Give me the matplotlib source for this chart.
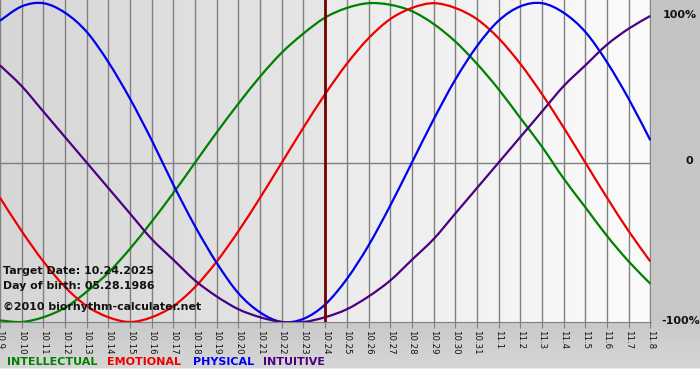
import numpy as np
import matplotlib
matplotlib.use("Agg")
import matplotlib.pyplot as plt
from matplotlib.colors import LinearSegmentedColormap
from matplotlib.path import Path
from matplotlib.patches import PathPatch

# days shown: 10.9 .. 11.8, target date 10.24.2025
dates = ["10.9", "10.10", "10.11", "10.12", "10.13", "10.14", "10.15", "10.16",
         "10.17", "10.18", "10.19", "10.20", "10.21", "10.22", "10.23", "10.24",
         "10.25", "10.26", "10.27", "10.28", "10.29", "10.30", "10.31",
         "11.1", "11.2", "11.3", "11.4", "11.5", "11.6", "11.7", "11.8"]
target_idx = 15

intellectual = [-0.99, -1.00, -0.97, -0.91, -0.81, -0.69, -0.54, -0.37, -0.19, 0.00,
                0.19, 0.37, 0.54, 0.69, 0.81, 0.91, 0.97, 1.00, 0.99, 0.95,
                0.87, 0.76, 0.62, 0.46, 0.28, 0.10, -0.10, -0.28, -0.46, -0.62, -0.76]
emotional = [-0.22, -0.43, -0.62, -0.78, -0.90, -0.97, -1.00, -0.97, -0.90, -0.78,
             -0.62, -0.43, -0.22, 0.00, 0.22, 0.43, 0.62, 0.78, 0.90, 0.97,
             1.00, 0.97, 0.90, 0.78, 0.62, 0.43, 0.22, 0.00, -0.22, -0.43, -0.62]
physical = [0.89, 0.98, 1.00, 0.94, 0.82, 0.63, 0.40, 0.14, -0.14, -0.40,
            -0.63, -0.82, -0.94, -1.00, -0.98, -0.89, -0.73, -0.52, -0.27, 0.00,
            0.27, 0.52, 0.73, 0.89, 0.98, 1.00, 0.94, 0.82, 0.63, 0.40, 0.14]
intuitive = [0.61, 0.48, 0.32, 0.16, 0.00, -0.16, -0.32, -0.48, -0.61, -0.74,
             -0.84, -0.92, -0.97, -1.00, -1.00, -0.97, -0.92, -0.84, -0.74, -0.61,
             -0.48, -0.32, -0.16, 0.00, 0.16, 0.32, 0.48, 0.61, 0.74, 0.84, 0.92]

series = [("INTELLECTUAL", intellectual, "#008000"),
          ("EMOTIONAL", emotional, "#ee0000"),
          ("PHYSICAL", physical, "#0000ee"),
          ("INTUITIVE", intuitive, "#4b0082")]


def smooth_path(xs, ys):
    # catmull-rom through the daily values, drawn as cubic bezier segments
    pts = np.column_stack([xs, ys]).astype(float)
    verts = [pts[0]]
    codes = [Path.MOVETO]
    n = len(pts)
    for i in range(n - 1):
        p0 = pts[max(i - 1, 0)]
        p1 = pts[i]
        p2 = pts[i + 1]
        p3 = pts[min(i + 2, n - 1)]
        verts += [p1 + (p2 - p0) / 6, p2 - (p3 - p1) / 6, p2]
        codes += [Path.CURVE4] * 3
    return Path(verts, codes)


fig = plt.figure(figsize=(7, 3.8), dpi=100)

# figure background: gray, lighter toward the bottom, white strip at the very bottom
bg = fig.add_axes([0, 0, 1, 1], zorder=-10)
bg_cmap = LinearSegmentedColormap.from_list(
    "bg", [(0, "#ffffff"), (0.025, "#ffffff"), (0.03, "#d6d6d6"),
           (0.16, "#c8c8c8"), (1, "#c4c4c4")])
bg.imshow(np.linspace(0, 1, 380)[::-1].reshape(-1, 1), aspect="auto",
          cmap=bg_cmap, extent=[0, 1, 0, 1], origin="upper")
bg.axis("off")

ax = fig.add_axes([0, 58 / 380, 651 / 700, 322 / 380])
x = np.arange(len(dates))
ax.set_xlim(0, len(dates) - 1 + 0.03)
ax.set_ylim(-1.0, 1.02)

# plot area gradients, split at the target date
left_cmap = LinearSegmentedColormap.from_list("l", ["#d6d6d6", "#e6e6e6"])
right_cmap = LinearSegmentedColormap.from_list("r", ["#ebebeb", "#fbfbfb"])
grad = np.linspace(0, 1, 200).reshape(1, -1)
ax.imshow(grad, aspect="auto", cmap=left_cmap, extent=[0, target_idx, -1.0, 1.02], zorder=0)
ax.imshow(grad, aspect="auto", cmap=right_cmap,
          extent=[target_idx, len(dates) - 1 + 0.03, -1.0, 1.02], zorder=0)

for xi in x:
    ax.axvline(xi, color="#808080", lw=1, zorder=1)
ax.axhline(0, color="#808080", lw=1, zorder=1)

for name, vals, col in series:
    ax.add_patch(PathPatch(smooth_path(x, vals), facecolor="none",
                           edgecolor=col, lw=1.6, zorder=3))

ax.axvline(target_idx, color="#700000", lw=2, zorder=4)

for sp in ["top", "left", "right"]:
    ax.spines[sp].set_visible(False)
ax.spines["bottom"].set_color("#808080")
ax.set_yticks([])
ax.set_xticks(x)
ax.set_xticklabels(dates, rotation=270, fontsize=6.2, va="top", ha="center",
                   color="#111111")
ax.tick_params(axis="x", length=4, color="#808080", pad=1.5)

txt = dict(fontsize=7.9, fontweight="bold", color="#111111", zorder=5)
fig.text(3 / 700, 1 - 271 / 380, "Target Date: 10.24.2025", va="center", **txt)
fig.text(3 / 700, 1 - 286 / 380, "Day of birth: 05.28.1986", va="center", **txt)
fig.text(3 / 700, 1 - 307 / 380, "\u00a92010 biorhythm-calculater.net", va="center", **txt)

rtxt = dict(fontsize=8, fontweight="bold", color="#111111", ha="right", va="center")
fig.text(697 / 700, 1 - 15 / 380, "100%", **rtxt)
fig.text(693 / 700, 1 - 161 / 380, "0", **rtxt)
fig.text(700 / 700, 1 - 321 / 380, "-100%", **rtxt)

legend_x = [7, 107, 193, 263]
for (name, vals, col), lx in zip(series, legend_x):
    fig.text(lx / 700, 1 - 362 / 380, name, color=col, fontsize=8,
             fontweight="bold", va="center")

fig.savefig("out.png", dpi=100)
